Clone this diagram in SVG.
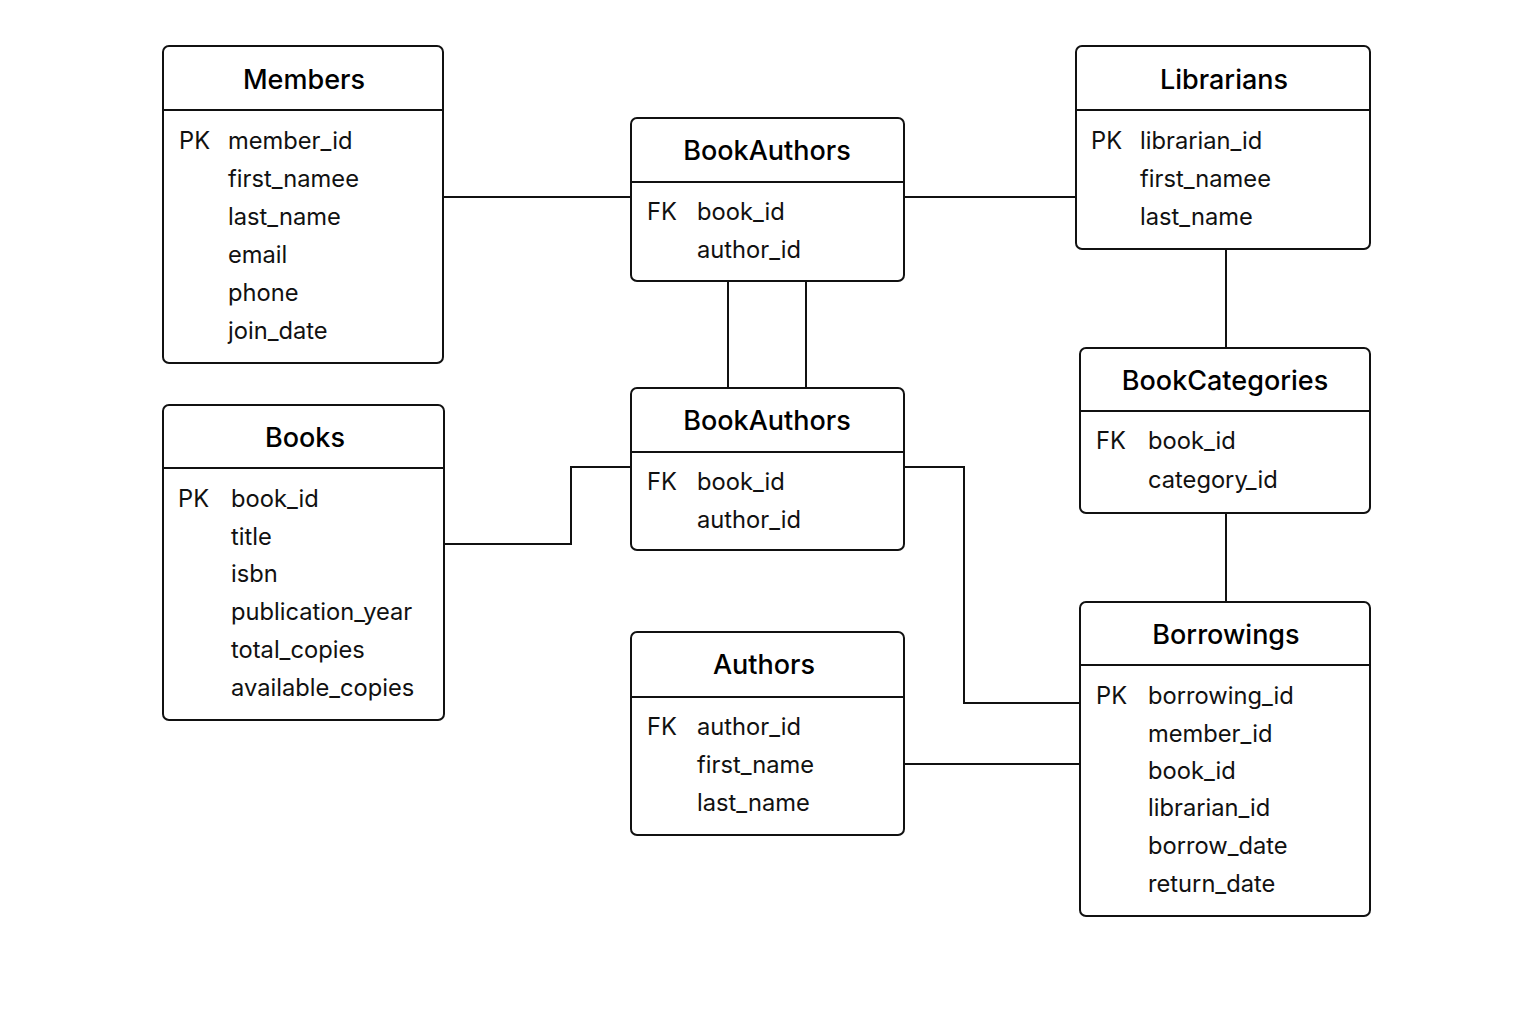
<svg xmlns="http://www.w3.org/2000/svg" width="1536" height="1024" viewBox="0 0 1536 1024">
<style>
.box{fill:#fff;stroke:#111;stroke-width:2}
.sep{stroke:#111;stroke-width:2}
.conn{fill:none;stroke:#111;stroke-width:2}
.t{font-family:Inter,"Noto Sans","DejaVu Sans",sans-serif;font-size:27px;font-weight:500;fill:#000;text-anchor:middle}
.f{font-family:Inter,"Noto Sans","DejaVu Sans",sans-serif;font-size:23.7px;fill:#111}
</style>
<rect width="1536" height="1024" fill="#fff"/>
<g id="connectors">
<line class="conn" x1="443" y1="197" x2="631" y2="197"/>
<line class="conn" x1="904" y1="197" x2="1076" y2="197"/>
<line class="conn" x1="728" y1="281" x2="728" y2="388"/>
<line class="conn" x1="806" y1="281" x2="806" y2="388"/>
<line class="conn" x1="1226" y1="249" x2="1226" y2="348"/>
<line class="conn" x1="1226" y1="513" x2="1226" y2="602"/>
<polyline class="conn" points="444,544 571,544 571,467 631,467"/>
<polyline class="conn" points="904,467 964,467 964,703 1080,703"/>
<line class="conn" x1="904" y1="764" x2="1080" y2="764"/>
</g>
<g id="members">
<rect class="box" x="163" y="46" width="280" height="317" rx="6"/>
<line class="sep" x1="163" y1="110" x2="443" y2="110"/>
<text class="t" x="304" y="89">Members</text>
<text class="f" x="179" y="149">PK</text>
<text class="f" x="228" y="149">member_id</text>
<text class="f" x="228" y="187">first_namee</text>
<text class="f" x="228" y="225">last_name</text>
<text class="f" x="228" y="263">email</text>
<text class="f" x="228" y="301">phone</text>
<text class="f" x="228" y="339">join_date</text>
</g>
<g id="librarians">
<rect class="box" x="1076" y="46" width="294" height="203" rx="6"/>
<line class="sep" x1="1076" y1="110" x2="1370" y2="110"/>
<text class="t" x="1224" y="89">Librarians</text>
<text class="f" x="1091" y="149">PK</text>
<text class="f" x="1140" y="149">librarian_id</text>
<text class="f" x="1140" y="187">first_namee</text>
<text class="f" x="1140" y="225">last_name</text>
</g>
<g id="bookauthors1">
<rect class="box" x="631" y="118" width="273" height="163" rx="6"/>
<line class="sep" x1="631" y1="182" x2="904" y2="182"/>
<text class="t" x="767" y="160">BookAuthors</text>
<text class="f" x="647" y="220">FK</text>
<text class="f" x="697" y="220">book_id</text>
<text class="f" x="697" y="258">author_id</text>
</g>
<g id="bookauthors2">
<rect class="box" x="631" y="388" width="273" height="162" rx="6"/>
<line class="sep" x1="631" y1="452" x2="904" y2="452"/>
<text class="t" x="767" y="430">BookAuthors</text>
<text class="f" x="647" y="490">FK</text>
<text class="f" x="697" y="490">book_id</text>
<text class="f" x="697" y="528">author_id</text>
</g>
<g id="books">
<rect class="box" x="163" y="405" width="281" height="315" rx="6"/>
<line class="sep" x1="163" y1="468" x2="444" y2="468"/>
<text class="t" x="305" y="447">Books</text>
<text class="f" x="178" y="507">PK</text>
<text class="f" x="231" y="507">book_id</text>
<text class="f" x="231" y="545">title</text>
<text class="f" x="231" y="582">isbn</text>
<text class="f" x="231" y="620">publication_year</text>
<text class="f" x="231" y="658">total_copies</text>
<text class="f" x="231" y="696">available_copies</text>
</g>
<g id="bookcategories">
<rect class="box" x="1080" y="348" width="290" height="165" rx="6"/>
<line class="sep" x1="1080" y1="411" x2="1370" y2="411"/>
<text class="t" x="1225" y="390">BookCategories</text>
<text class="f" x="1096" y="449">FK</text>
<text class="f" x="1148" y="449">book_id</text>
<text class="f" x="1148" y="488">category_id</text>
</g>
<g id="borrowings">
<rect class="box" x="1080" y="602" width="290" height="314" rx="6"/>
<line class="sep" x1="1080" y1="665" x2="1370" y2="665"/>
<text class="t" x="1226" y="644">Borrowings</text>
<text class="f" x="1096" y="704">PK</text>
<text class="f" x="1148" y="704">borrowing_id</text>
<text class="f" x="1148" y="742">member_id</text>
<text class="f" x="1148" y="779">book_id</text>
<text class="f" x="1148" y="816">librarian_id</text>
<text class="f" x="1148" y="854">borrow_date</text>
<text class="f" x="1148" y="892">return_date</text>
</g>
<g id="authors">
<rect class="box" x="631" y="632" width="273" height="203" rx="6"/>
<line class="sep" x1="631" y1="697" x2="904" y2="697"/>
<text class="t" x="764" y="674">Authors</text>
<text class="f" x="647" y="735">FK</text>
<text class="f" x="697" y="735">author_id</text>
<text class="f" x="697" y="773">first_name</text>
<text class="f" x="697" y="811">last_name</text>
</g>
</svg>
